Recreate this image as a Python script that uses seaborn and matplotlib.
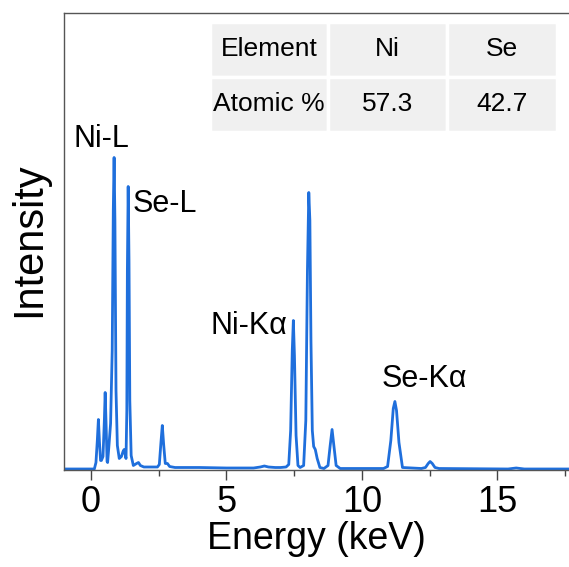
import matplotlib
matplotlib.use("Agg")
import matplotlib.pyplot as plt
import seaborn as sns
import pandas as pd

# EDS spectrum, traced as (energy, intensity) vertices
energy_kev = [
    -1.00, 0.12,
    0.18, 0.23, 0.27, 0.31, 0.35, 0.38,
    0.44, 0.49, 0.52, 0.555, 0.59, 0.61,
    0.66, 0.72, 0.78, 0.82, 0.85, 0.88, 0.92, 0.97, 1.04,
    1.12, 1.18, 1.22, 1.26, 1.29,
    1.32, 1.34, 1.37, 1.40, 1.43, 1.48, 1.56,
    1.68, 1.75, 1.82, 1.95, 2.45,
    2.52, 2.58, 2.63, 2.68, 2.74, 2.82, 2.90, 3.10,
    4.00, 5.00, 6.00, 6.25, 6.40, 6.55, 6.80, 7.00, 7.20,
    7.30, 7.37, 7.43, 7.47, 7.51, 7.57, 7.64, 7.72,
    7.85, 7.93, 7.99, 8.04, 8.08, 8.12, 8.17, 8.22, 8.28, 8.35, 8.45,
    8.60, 8.75, 8.83, 8.90, 8.97, 9.05, 9.20,
    10.00, 10.80,
    10.95, 11.07, 11.16, 11.22, 11.28, 11.37, 11.50,
    12.20, 12.35, 12.45, 12.52, 12.60, 12.70, 12.85,
    15.40, 15.70, 16.00, 17.70,
]
intensity = [
    1.5, 1.5,
    8, 30, 51, 28, 10, 10,
    14, 50, 78, 45, 9, 8,
    25, 47, 120, 260, 313, 250, 80, 25, 12,
    14, 19, 21, 16, 12,
    60, 200, 284, 210, 70, 15, 5,
    7, 8, 5, 3.5, 3.5,
    6, 28, 45, 26, 7, 7, 4, 3,
    3, 2.5, 2.5, 3.5, 4.5, 3.5, 3, 3, 3.5,
    6, 40, 120, 150, 115, 35, 5, 3,
    5, 50, 200, 278, 250, 130, 40, 24, 21, 12, 3,
    2, 5, 25, 41, 24, 5, 2,
    2, 2,
    4, 30, 62, 69, 60, 28, 3,
    2, 3, 7, 9, 7, 3, 2,
    1.5, 2.5, 1.5, 1.5,
]

peak_labels = ["Ni-L", "Se-L", "Ni-K\u03b1", "Se-K\u03b1"]
label_x = [-0.66, 1.54, 4.40, 10.73]
label_y = [323.8, 258.2, 136.2, 83.2]

table_header = ["Element", "Ni", "Se"]
table_row = ["Atomic %", "57.3", "42.7"]

x_ticks = [0, 5, 10, 15]
x_minor = [2.5, 7.5, 12.5, 17.5]

sns.set_theme(style="white")
plt.rcParams["font.family"] = ["Liberation Sans", "DejaVu Sans"]

fig = plt.figure(figsize=(5.69, 5.67), dpi=100)
ax = fig.add_axes([0.1125, 0.1702, 0.8875, 0.8074])

df = pd.DataFrame({"Energy": energy_kev, "Intensity": intensity})
sns.lineplot(data=df, x="Energy", y="Intensity", ax=ax, estimator=None,
             sort=False, color="#1f6fdc", linewidth=2.0)
for line in ax.get_lines():
    line.set_solid_joinstyle("round")

ax.set_xlim(-1.0, 17.65)
ax.set_ylim(0, 457.8)

for side in ["left", "top", "bottom"]:
    ax.spines[side].set_visible(True)
    ax.spines[side].set_color("#555555")
    ax.spines[side].set_linewidth(1.0)
ax.spines["right"].set_visible(False)

ax.set_xticks(x_ticks)
ax.set_xticklabels([str(t) for t in x_ticks])
ax.set_xticks(x_minor, minor=True)
ax.set_yticks([])
ax.tick_params(axis="x", which="major", direction="out", length=7.2,
               width=1.0, color="#444444", labelsize=26, pad=3,
               bottom=True, labelcolor="black")
ax.tick_params(axis="x", which="minor", direction="out", length=4.3,
               width=1.0, color="#444444", bottom=True)

ax.set_xlabel("Energy (keV)", fontsize=27, labelpad=1, color="black")
ax.set_ylabel("Intensity", fontsize=30, color="black")
ax.yaxis.set_label_coords(-0.03, 0.505)

for txt, lx, ly in zip(peak_labels, label_x, label_y):
    ax.text(lx, ly, txt, fontsize=22, ha="left", va="baseline", color="black")

# composition table in the upper right corner
tbl = ax.table(cellText=[table_header, table_row], cellLoc="center",
               bbox=[(210 - 64) / 505, (470.5 - 131.7) / 457.8,
                     (556.7 - 210) / 505, (131.7 - 21.7) / 457.8])
col_w = [(328.3 - 210), (446.7 - 328.3), (556.7 - 446.7)]
total = sum(col_w)
tbl.auto_set_font_size(False)
for (r, c), cell in tbl.get_celld().items():
    cell.set_facecolor("#f0f0f0")
    cell.set_edgecolor("white")
    cell.set_linewidth(2.5)
    cell.set_width(col_w[c] / total * (556.7 - 210) / 505)
    cell.get_text().set_fontsize(19)
    cell.get_text().set_color("black")

fig.savefig("out.png", dpi=100)
